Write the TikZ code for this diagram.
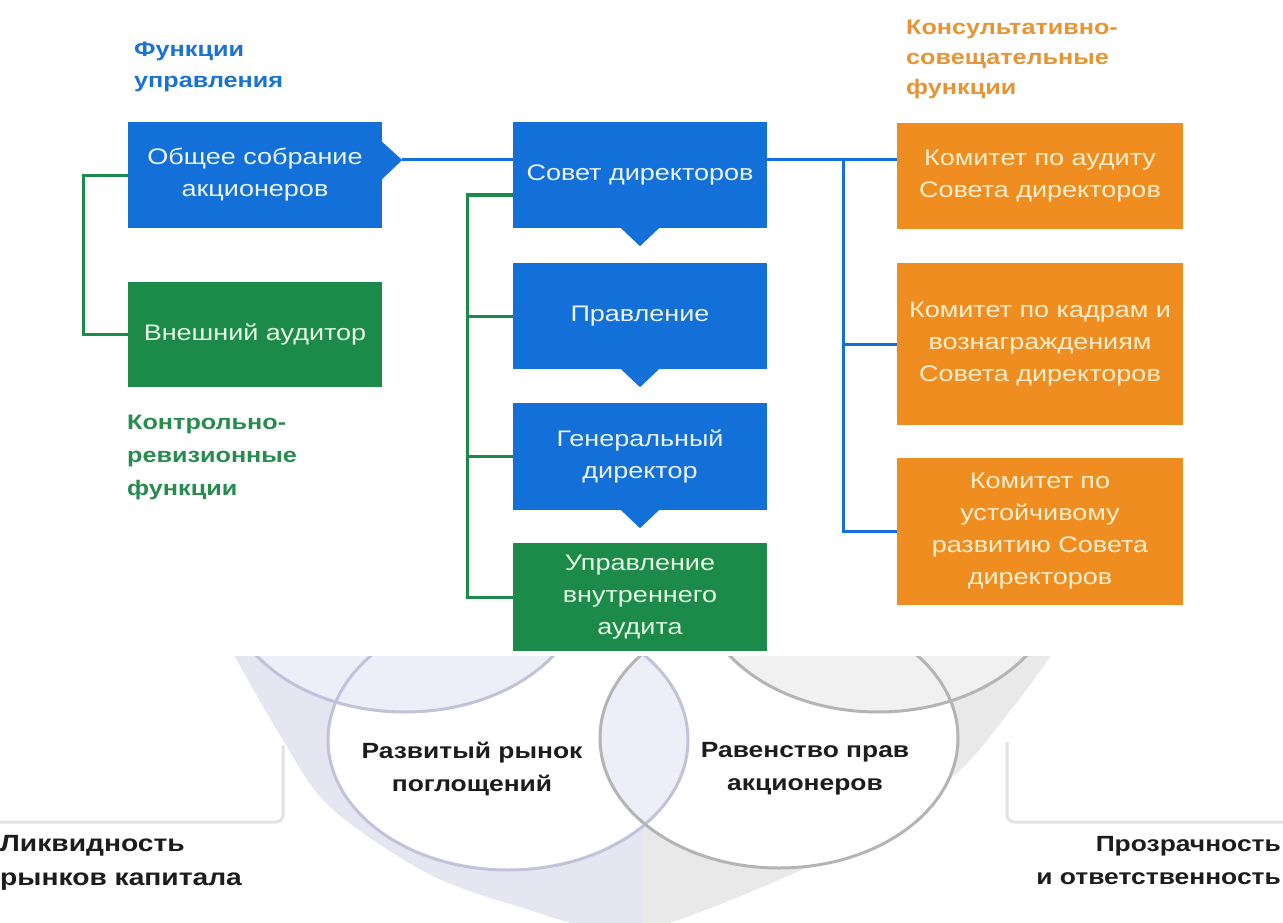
\documentclass[tikz,border=0pt]{standalone}
\usepackage{fontspec}
\setmainfont[FakeStretch=1.2]{Liberation Sans}
\usetikzlibrary{calc}
\definecolor{cblue}{RGB}{18,112,216}
\definecolor{cgreen}{RGB}{28,138,72}
\definecolor{corange}{RGB}{240,141,32}
\definecolor{tblue}{RGB}{236,243,255}
\definecolor{tgreen}{RGB}{228,247,228}
\definecolor{torange}{RGB}{255,238,204}
\definecolor{hblue}{RGB}{26,115,210}
\definecolor{hgreen}{RGB}{40,140,78}
\definecolor{horange}{RGB}{232,148,52}
\definecolor{lav}{RGB}{230,230,243}
\definecolor{lavlight}{RGB}{238,238,248}
\definecolor{lavline}{RGB}{194,194,218}
\definecolor{gry}{RGB}{233,233,233}
\definecolor{grylight}{RGB}{241,241,241}
\definecolor{gryline}{RGB}{180,180,180}
\definecolor{brk}{RGB}{226,226,226}
\definecolor{dark}{RGB}{28,28,28}
\tikzset{
  box/.style={rectangle, inner sep=2pt, align=center, minimum width=254pt,
    font=\fontsize{22.5}{32}\selectfont},
  bbox/.style={box, fill=cblue, text=tblue},
  gbox/.style={box, fill=cgreen, text=tgreen},
  obox/.style={box, fill=corange, text=torange, minimum width=286pt},
  bline/.style={draw=cblue, line width=3pt},
  gline/.style={draw=cgreen, line width=3pt},
  head/.style={inner sep=0pt, align=left, anchor=north west,
    font=\bfseries\fontsize{21}{31}\selectfont},
  lbl/.style={inner sep=0pt, text=dark, font=\bfseries\fontsize{22}{33}\selectfont},
  ringl/.style={draw=lavline, line width=3pt},
  ringg/.style={draw=gryline, line width=3pt},
  bracket/.style={draw=brk, line width=3pt, rounded corners=7pt}
}
\begin{document}
\begin{tikzpicture}[x=1pt,y=-1pt]
\useasboundingbox (0,0) rectangle (1283,923);
\fill[white] (0,0) rectangle (1283,923);

% ---------- bottom picture ----------
\begin{scope}
\clip (0,656) rectangle (1283,923);
\begin{scope}
\clip (0,600) rectangle (643,940);
\fill[lav] plot[smooth, tension=0.55] coordinates {(226,640) (235,657) (283,740) (330,807) (427,873) (520,907) (620,932) (713,907) (863,840) (957,773) (1013,707) (1050,657) (1060,640)} -- cycle;
\end{scope}
\begin{scope}
\clip (643,600) rectangle (1283,940);
\fill[gry] plot[smooth, tension=0.55] coordinates {(226,640) (235,657) (283,740) (330,807) (427,873) (520,907) (620,932) (713,907) (863,840) (957,773) (1013,707) (1050,657) (1060,640)} -- cycle;
\end{scope}
\fill[white] (508,740) ellipse [x radius=180pt, y radius=130pt];
\fill[white] (779,738) ellipse [x radius=179pt, y radius=130pt];
\fill[lavlight] (405,582) ellipse [x radius=180pt, y radius=130pt];
\fill[grylight] (878,582) ellipse [x radius=180pt, y radius=130pt];
\begin{scope}
\clip (508,740) ellipse [x radius=180pt, y radius=130pt];
\fill[lavlight] (779,738) ellipse [x radius=179pt, y radius=130pt];
\end{scope}
\draw[ringl] (405,582) ellipse [x radius=180pt, y radius=130pt];
\draw[ringg] (878,582) ellipse [x radius=180pt, y radius=130pt];
\draw[ringl] (508,740) ellipse [x radius=180pt, y radius=130pt];
\draw[ringg] (779,738) ellipse [x radius=179pt, y radius=130pt];
\draw[bracket] (283,745) |- (-5,822);
\draw[bracket] (1007,742) |- (1290,822);
\end{scope}

\node[lbl, align=center] (rr) at (472,769) {Развитый рынок\\поглощений};
\node[lbl, align=center] (rp) at (805,769) {Равенство прав\\акционеров};
\node[lbl, anchor=north west, align=left, font=\bfseries\fontsize{23.5}{34}\selectfont] (liq) at (0,835) {Ликвидность\\рынков капитала};
\node[lbl, anchor=north east, align=right] (pro) at (1281,836) {Прозрачность\\и ответственность};

% ---------- headings ----------
\node[head, text=hblue] (h1) at (134,42) {Функции\\управления};
\node[head, text=hgreen, font=\bfseries\fontsize{21}{33}\selectfont] (h2) at (127,415) {Контрольно-\\ревизионные\\функции};
\node[head, text=horange, font=\bfseries\fontsize{21}{30}\selectfont] (h3) at (906,20) {Консультативно-\\совещательные\\функции};

% ---------- boxes ----------
\node[bbox, minimum height=106pt] (osa) at (255,175) {Общее собрание\\акционеров};
\node[gbox, minimum height=105pt] (ext) at (255,334.5) {Внешний аудитор};
\node[bbox, minimum height=106pt] (sd) at (640,175) {Совет директоров};
\node[bbox, minimum height=106pt] (pr) at (640,316) {Правление};
\node[bbox, minimum height=107pt] (gd) at (640,456.5) {Генеральный\\директор};
\node[gbox, minimum height=108pt] (uva) at (640,597) {Управление\\внутреннего\\аудита};
\node[obox, minimum height=106pt] (k1) at (1040,176) {Комитет по аудиту\\Совета директоров};
\node[obox, minimum height=162pt] (k2) at (1040,344) {Комитет по кадрам и\\вознаграждениям\\Совета директоров};
\node[obox, minimum height=147pt] (k3) at (1040,531.5) {Комитет по\\устойчивому\\развитию Совета\\директоров};

% ---------- pointers ----------
\fill[cblue] ($(osa.east)+(-1,-34)$) -- ($(osa.east)+(20,-15)$) -- ($(osa.east)+(-1,5)$) -- cycle;
\coordinate (ot) at ($(osa.east)+(20,-15)$);
\foreach \b in {sd,pr,gd}{
  \fill[cblue] ($(\b.south)+(-20,-1)$) -- ($(\b.south)+(0,18)$) -- ($(\b.south)+(20,-1)$) -- cycle;
}

% ---------- connectors ----------
\draw[bline] (ot) -- (ot -| sd.west);
\coordinate (bj) at (843,160);
\draw[bline] (sd.east |- bj) -- (k1.west |- bj);
\draw[bline] (bj) |- (k2.west);
\draw[bline] (bj) |- (k3.west);

\coordinate (gj) at (467,195);
\draw[gline] (sd.west |- gj) -- (gj) |- (uva.west);
\draw[gline] (gj) |- (pr.west);
\draw[gline] (gj) |- (gd.west);

\coordinate (lj) at (83,176);
\draw[gline] (osa.west |- lj) -- (lj) |- (ext.west);
\end{tikzpicture}
\end{document}
